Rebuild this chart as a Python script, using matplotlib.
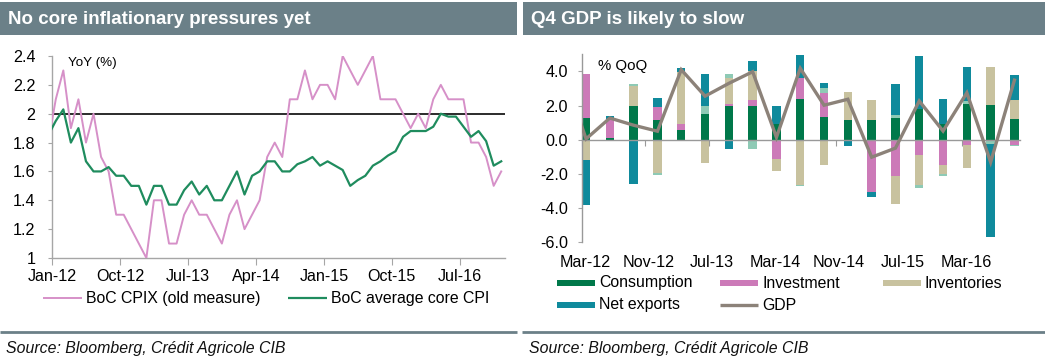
import matplotlib
matplotlib.use('Agg')
import matplotlib.pyplot as plt
from matplotlib.patches import Rectangle
from matplotlib.lines import Line2D
import matplotlib.transforms as mtransforms
import numpy as np

plt.rcParams['font.family'] = ['Liberation Sans', 'DejaVu Sans']
plt.rcParams['axes.unicode_minus'] = False

# ---------------- data: left chart (monthly, Dec-11 .. Dec-16) ----------------
cpix = [1.8,
        2.1, 2.3, 1.9, 2.1, 1.8, 2.0, 1.7, 1.6, 1.3, 1.3, 1.2, 1.1,
        1.0, 1.4, 1.4, 1.1, 1.1, 1.3, 1.4, 1.3, 1.3, 1.2, 1.1, 1.3,
        1.4, 1.2, 1.3, 1.4, 1.7, 1.8, 1.7, 2.1, 2.1, 2.3, 2.1, 2.2,
        2.2, 2.1, 2.4, 2.3, 2.2, 2.3, 2.4, 2.1, 2.1, 2.1, 2.0, 1.9,
        2.0, 1.9, 2.1, 2.2, 2.1, 2.1, 2.1, 1.8, 1.8, 1.7, 1.5, 1.6]
core = [1.85,
        1.95, 2.03, 1.80, 1.90, 1.67, 1.60, 1.60, 1.63, 1.57, 1.57, 1.50, 1.50,
        1.37, 1.50, 1.50, 1.37, 1.37, 1.47, 1.53, 1.44, 1.50, 1.40, 1.40, 1.50,
        1.60, 1.44, 1.57, 1.60, 1.67, 1.67, 1.60, 1.60, 1.65, 1.67, 1.70, 1.64,
        1.67, 1.64, 1.61, 1.50, 1.54, 1.57, 1.64, 1.67, 1.71, 1.74, 1.84, 1.88,
        1.88, 1.88, 1.91, 2.00, 1.98, 1.98, 1.91, 1.84, 1.88, 1.81, 1.64, 1.67]
left_ticklabels = ['Jan-12', 'Oct-12', 'Jul-13', 'Apr-14', 'Jan-15', 'Oct-15', 'Jul-16']
left_yticks = [1.0, 1.2, 1.4, 1.6, 1.8, 2.0, 2.2, 2.4]
left_yticklabels = ['1', '1.2', '1.4', '1.6', '1.8', '2', '2.2', '2.4']

# ---------------- data: right chart (quarterly, Q1-12 .. Q3-16) ----------------
consumption = [1.25, 0.10, 1.95, 1.15, 0.60, 1.49, 1.95, 1.95, 0.90, 2.41,
               1.31, 1.16, 1.15, 1.29, 1.82, 0.94, 2.12, 2.02, 1.24]
investment = [2.60, 1.12, -0.10, 0.75, 0.35, 0.00, 0.15, 0.35, -1.10, 1.18,
              1.45, -0.10, -3.08, -2.10, -0.92, -1.45, -0.29, 0.00, -0.33]
inventories = [-1.16, 0.00, 1.20, -1.95, 3.00, -1.35, 1.50, 1.70, -0.70, -2.65,
               -1.45, 1.62, 1.16, -1.66, -1.71, -0.55, -1.36, 2.25, 1.07]
government = [0.00, 0.00, 0.10, -0.10, -0.10, 0.46, 0.25, -0.55, 0.00, -0.05,
              0.25, 0.00, 0.00, 0.16, -0.21, -0.10, 0.13, -0.24, -0.05]
net_exports = [-2.64, 0.15, -2.50, 0.55, 0.25, 1.89, -0.55, 0.60, 1.06, 1.37,
               0.30, -0.29, -0.29, 1.80, 3.10, 1.47, 2.02, -5.45, 1.47]
# GDP: Q4-11 then Q1-12 .. Q3-16
gdp = [4.15, 0.05, 1.27, 0.85, 0.50, 4.10, 2.55, 3.30, 3.98, 0.14, 4.18,
       2.02, 2.37, -1.02, -0.49, 2.27, 0.51, 2.75, -1.31, 3.49]
right_ticklabels = ['Mar-12', 'Nov-12', 'Jul-13', 'Mar-14', 'Nov-14', 'Jul-15', 'Mar-16']
right_yticks = [-6, -4, -2, 0, 2, 4]
right_yticklabels = ['-6.0', '-4.0', '-2.0', '0.0', '2.0', '4.0']

# ---------------- styling ----------------
W, H = 1045, 363
HEADER = '#6b8088'
AXCOL = '#a6a6a6'
C_PINK = '#d690c8'
C_GREEN = '#1f8c5e'
C_CONS = '#00784a'
C_INV = '#cc7ab8'
C_INVT = '#c8c29f'
C_GOV = '#8ecab5'
C_NX = '#0f8a9c'
C_GDP = '#8c8279'
FS = 11.4
TFS = 11.6

fig = plt.figure(figsize=(W / 100, H / 100), dpi=100)
fig.patch.set_facecolor('white')


def box(x0, y0, x1, y1):
    return [x0 / W, 1 - y1 / H, (x1 - x0) / W, (y1 - y0) / H]


def fig_rect(x0, y0, x1, y1, color):
    fig.add_artist(Rectangle((x0 / W, 1 - y1 / H), (x1 - x0) / W, (y1 - y0) / H,
                             transform=fig.transFigure, facecolor=color,
                             edgecolor='none'))


def fig_line(x0, x1, y, color, lw):
    fig.add_artist(Line2D([x0 / W, x1 / W], [1 - y / H, 1 - y / H],
                          transform=fig.transFigure, color=color, lw=lw,
                          solid_capstyle='butt'))


def fig_text(x, y, s, **kw):
    fig.text(x / W, 1 - y / H, s, **kw)


shift = mtransforms.ScaledTranslation(3.5 / 100, 0, fig.dpi_scale_trans)

# headers
fig_rect(0, 2, 517, 35, HEADER)
fig_rect(523, 2, 1045, 35, HEADER)
fig_text(8, 19, 'No core inflationary pressures yet', color='white',
         fontsize=13.5, fontweight='bold', va='center', ha='left')
fig_text(531, 19, 'Q4 GDP is likely to slow', color='white',
         fontsize=13.5, fontweight='bold', va='center', ha='left')

# bottom rules and sources
fig_line(0, 517, 332, HEADER, 2.0)
fig_line(522, 1045, 332, HEADER, 2.0)
fig_text(6, 349, 'Source: Bloomberg, Crédit Agricole CIB', fontsize=FS,
         style='italic', va='center', ha='left', color='#111111')
fig_text(529, 349, 'Source: Bloomberg, Crédit Agricole CIB', fontsize=FS,
         style='italic', va='center', ha='left', color='#111111')

# ---------------- left chart ----------------
ax1 = fig.add_axes(box(52, 56, 505, 258))
xm = np.arange(len(cpix)) - 1 + 0.5
ax1.plot(xm, cpix, color=C_PINK, lw=1.4, zorder=3)
ax1.plot(xm, core, color=C_GREEN, lw=1.6, zorder=4)
ax1.axhline(2.0, color='#1a1a1a', lw=1.3, zorder=2)
ax1.set_xlim(0, 60)
ax1.set_ylim(1.0, 2.4)
ax1.set_xticks(np.arange(len(left_ticklabels)) * 9)
ax1.set_xticklabels(left_ticklabels, fontsize=TFS)
for lab in ax1.get_xticklabels():
    lab.set_transform(lab.get_transform() + shift)
ax1.set_yticks(left_yticks)
ax1.set_yticklabels(left_yticklabels, fontsize=TFS)
for s in ['top', 'right']:
    ax1.spines[s].set_visible(False)
for s in ['left', 'bottom']:
    ax1.spines[s].set_color(AXCOL)
    ax1.spines[s].set_linewidth(1.0)
ax1.tick_params(axis='x', length=5, color=AXCOL, pad=3)
ax1.tick_params(axis='y', length=3, color=AXCOL, pad=9)
ax1.text(0.035, 0.965, 'YoY (%)', transform=ax1.transAxes, fontsize=9.6,
         va='center', ha='left')

# left legend
fig_line(43, 82, 298, C_PINK, 1.4)
fig_text(86, 298, 'BoC CPIX (old measure)', fontsize=FS, va='center', ha='left')
fig_line(288, 327, 298, C_GREEN, 1.6)
fig_text(331, 298, 'BoC average core CPI', fontsize=FS, va='center', ha='left')

# ---------------- right chart ----------------
ax2 = fig.add_axes(box(581.7, 54.3, 1020, 242.3))
xq = np.arange(len(consumption)) * 3 + 0.55
series = [(consumption, C_CONS), (investment, C_INV), (inventories, C_INVT),
          (government, C_GOV), (net_exports, C_NX)]
pos = np.zeros(len(xq))
neg = np.zeros(len(xq))
for vals, col in series:
    v = np.array(vals, dtype=float)
    bottom = np.where(v >= 0, pos, neg)
    ax2.bar(xq, v, bottom=bottom, width=1.05, color=col, edgecolor='none', zorder=2)
    pos = pos + np.where(v >= 0, v, 0)
    neg = neg + np.where(v < 0, v, 0)
xg = np.arange(len(gdp)) * 3 - 3 + 0.55
ax2.plot(xg, gdp, color=C_GDP, lw=2.4, zorder=4, solid_joinstyle='miter')
ax2.set_xlim(0, 55.25)
ax2.set_ylim(-6, 5)
ax2.set_yticks(right_yticks)
ax2.set_yticklabels(right_yticklabels, fontsize=TFS)
ax2.spines['bottom'].set_position(('data', 0))
for s in ['top', 'right']:
    ax2.spines[s].set_visible(False)
for s in ['left', 'bottom']:
    ax2.spines[s].set_color('#999999')
    ax2.spines[s].set_linewidth(1.0)
ax2.spines['bottom'].set_zorder(3)
rticks = np.arange(len(right_ticklabels)) * 8
ax2.set_xticks(rticks)
ax2.tick_params(axis='x', length=4, color='#999999', labelbottom=False)
ax2.tick_params(axis='y', length=3, color=AXCOL, pad=7)
for t, lab in zip(rticks, right_ticklabels):
    ax2.text(t, -0.105, lab, transform=ax2.get_xaxis_transform() + shift,
             fontsize=TFS, ha='center', va='center')
ax2.text(0.037, 0.94, '% QoQ', transform=ax2.transAxes, fontsize=10.8,
         va='center', ha='left')

# right legend
def patch_entry(x0, y, label, color):
    fig_rect(x0, y - 3, x0 + 38, y + 3, color)
    fig_text(x0 + 42, y, label, fontsize=FS, va='center', ha='left')

patch_entry(557, 283, 'Consumption', C_CONS)
patch_entry(720, 283, 'Investment', C_INV)
patch_entry(883, 283, 'Inventories', C_INVT)
patch_entry(557, 305, 'Net exports', C_NX)
fig_line(720, 758, 305, C_GDP, 2.4)
fig_text(762, 305, 'GDP', fontsize=FS, va='center', ha='left')

fig.savefig('out.png', dpi=100, facecolor='white')
